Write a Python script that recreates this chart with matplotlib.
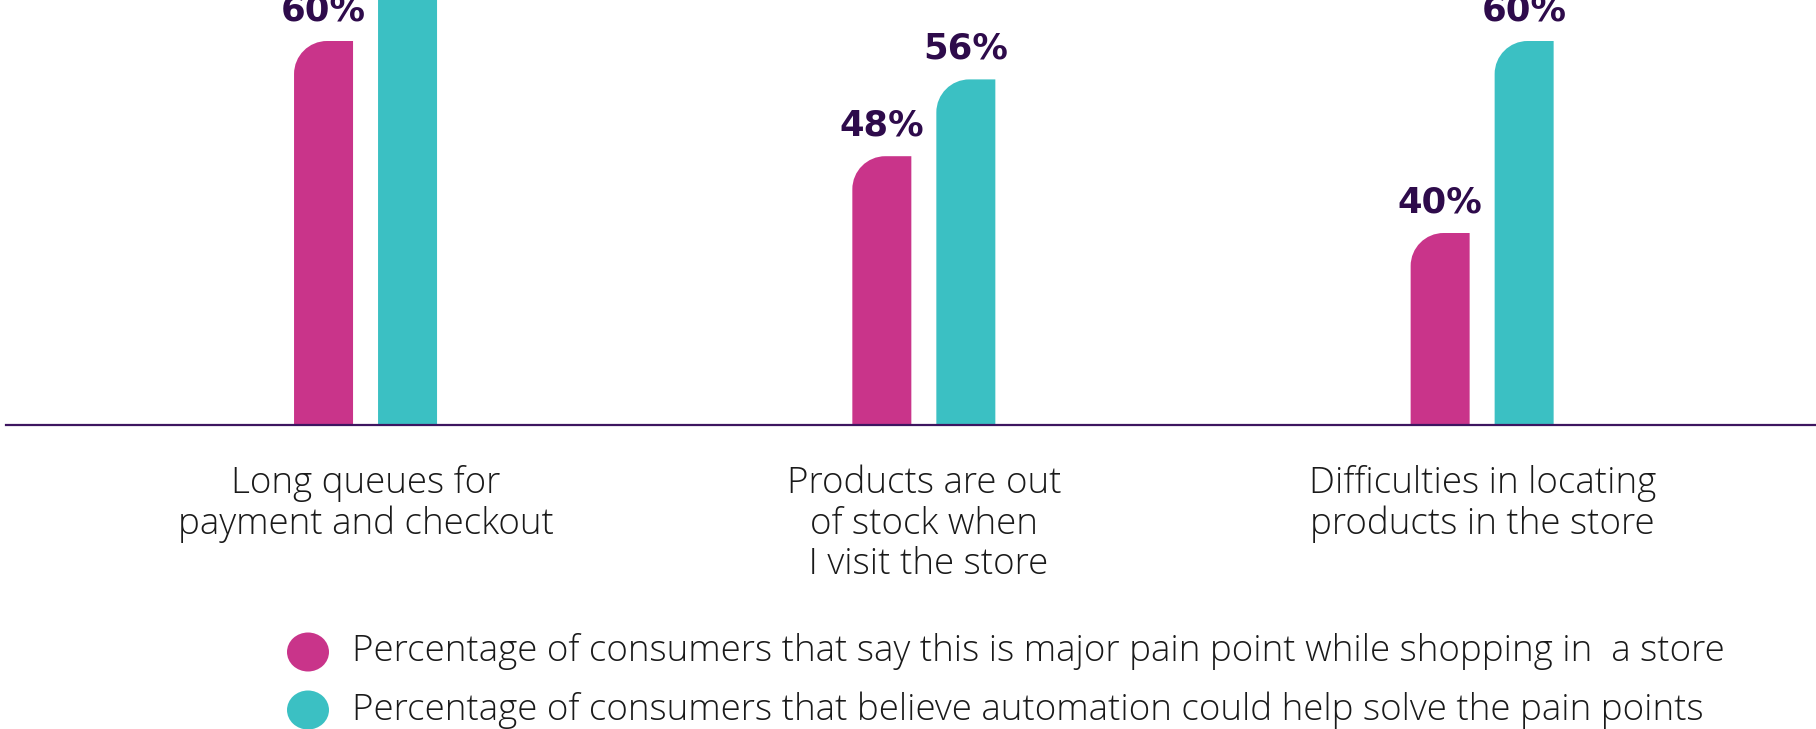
import matplotlib
matplotlib.use("Agg")
import matplotlib.pyplot as plt
from matplotlib.path import Path
from matplotlib.patches import PathPatch, Ellipse

# data
categories = [
    "Long queues for\npayment and checkout",
    "Products are out\nof stock when\n I visit the store",
    "Difficulties in locating\nproducts in the store",
]
pain_point = [60, 48, 40]
automation_help = [71, 56, 60]
series_names = [
    "Percentage of consumers that say this is major pain point while shopping in  a store",
    "Percentage of consumers that believe automation could help solve the pain points",
]

PINK = "#c9348a"
TEAL = "#3bc0c3"
LABEL_COL = "#2e0b4b"
AXIS_COL = "#3d1560"
TEXT_COL = "#1a1a1a"
BODY_FONT = ["Open Sans", "DejaVu Sans"]

W, H = 1816, 729
fig = plt.figure(figsize=(W / 100, H / 100), dpi=100)

base = 20
ax = fig.add_axes([6 / W, (H - 425) / H, 1 - 6 / W, 425 / H])
ax.set_xlim(-0.644, 2.598)
ax.set_ylim(base, base + 425 / 9.6)

for s in ["top", "left", "right"]:
    ax.spines[s].set_visible(False)
ax.spines["bottom"].set_color(AXIS_COL)
ax.spines["bottom"].set_linewidth(1.6)
ax.set_yticks([])
ax.set_xticks(range(len(categories)))
ax.set_xticklabels(categories, fontsize=26.5, family=BODY_FONT, fontweight="light",
                   color=TEXT_COL, linespacing=1.12)
ax.tick_params(axis="x", length=0, pad=29)

# size of a pixel in data units, for the rounded corner
p0 = ax.transData.transform((0, base))
p1 = ax.transData.transform((1, base + 1))
px_x = 1 / (p1[0] - p0[0])
px_y = 1 / (p1[1] - p0[1])

bar_w = 59 * px_x
offset = 42 * px_x
radius = 33
k = 0.5523


def rounded_bar(xc, top, color):
    x0, x1 = xc - bar_w / 2, xc + bar_w / 2
    rx, ry = radius * px_x, radius * px_y
    verts = [
        (x0, base), (x1, base), (x1, top), (x0 + rx, top),
        (x0 + rx * (1 - k), top), (x0, top - ry * (1 - k)), (x0, top - ry),
        (x0, base),
    ]
    codes = [Path.MOVETO, Path.LINETO, Path.LINETO, Path.LINETO,
             Path.CURVE4, Path.CURVE4, Path.CURVE4, Path.CLOSEPOLY]
    ax.add_patch(PathPatch(Path(verts, codes), facecolor=color, edgecolor="none"))


for i, (a, b) in enumerate(zip(pain_point, automation_help)):
    for xc, v, c in [(i - offset, a, PINK), (i + offset, b, TEAL)]:
        rounded_bar(xc, v, c)
        ax.annotate(f"{v}%", (xc, v), xytext=(0, 10), textcoords="offset points",
                    ha="center", va="bottom", fontsize=25.5, fontweight="bold",
                    family="DejaVu Sans", color=LABEL_COL, annotation_clip=False,
                    clip_on=True)

# legend drawn by hand
legend_y = [652, 710]
for y, name, c in zip(legend_y, series_names, [PINK, TEAL]):
    fig.add_artist(Ellipse((308 / W, 1 - y / H), 42 / W, 39 / H,
                           transform=fig.transFigure, facecolor=c, edgecolor="none"))
    fig.text(352 / W, 1 - y / H, name, fontsize=26.5, family=BODY_FONT, fontweight="light",
             color=TEXT_COL, va="center", ha="left")

fig.savefig("out.png", dpi=100)
